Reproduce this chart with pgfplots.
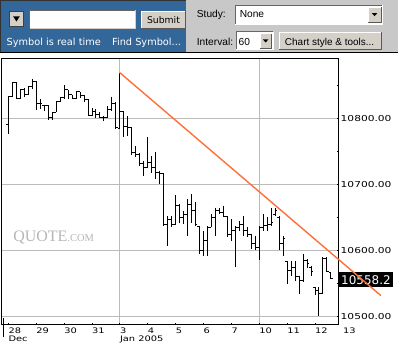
\documentclass[border=0pt]{standalone}
\usepackage{pgfplots}
\pgfplotsset{compat=1.18}
\usepackage{pgfplotstable}
\usepackage{fontspec}
\setmainfont{DejaVu Sans}
\newfontfamily\arialf{Liberation Sans}
\newfontfamily\pixfont[FakeStretch=1.3]{DejaVu Sans}
\newfontfamily\seriff{Liberation Serif}
\definecolor{tbblue}{RGB}{51,102,153}
\definecolor{tbgray}{RGB}{200,200,200}
\definecolor{btngray}{RGB}{212,208,200}
\definecolor{gridgray}{RGB}{187,187,187}
\definecolor{trend}{RGB}{255,112,56}
\definecolor{wm}{RGB}{182,182,182}

% hourly OHLC bars, x = bar index (7 bars per trading day)
\pgfplotstableread{
x o h l c
0 10790 10833 10776 10833
1 10833 10855 10833 10855
2 10855 10855 10830 10830
3 10830 10845 10829 10844
4 10844 10846 10833 10836
5 10836 10849 10835 10848
6 10848 10859 10844 10856
7 10856 10856 10813 10823
8 10823 10829 10814 10823
9 10819 10820 10811 10819
10 10819 10820 10798 10801
11 10801 10809 10798 10809
12 10809 10826 10809 10826
13 10826 10833 10825 10831
14 10831 10850 10830 10843
15 10843 10843 10829 10836
16 10836 10836 10829 10830
17 10830 10841 10829 10840
18 10840 10840 10831 10834
19 10834 10835 10825 10829
20 10829 10829 10804 10805
21 10805 10816 10803 10811
22 10811 10814 10801 10806
23 10806 10809 10800 10801
24 10801 10804 10796 10801
25 10801 10818 10800 10814
26 10814 10833 10811 10823
27 10823 10824 10784 10786
28 10785 10869 10784 10810
29 10810 10810 10771 10788
30 10788 10803 10773 10786
31 10786 10786 10744 10749
32 10749 10758 10741 10745
33 10745 10747 10728 10732
34 10732 10736 10713 10726
35 10726 10771 10725 10733
36 10733 10743 10718 10725
37 10725 10749 10708 10718
38 10718 10720 10700 10716
39 10716 10716 10637 10640
40 10640 10652 10607 10647
41 10647 10652 10635 10640
42 10640 10684 10640 10668
43 10668 10670 10642 10650
44 10650 10660 10640 10655
45 10655 10678 10622 10670
46 10670 10685 10642 10660
47 10660 10673 10637 10640
48 10636 10637 10595 10600
49 10600 10630 10592 10615
50 10615 10637 10592 10635
51 10635 10655 10635 10650
52 10650 10665 10622 10660
53 10660 10665 10655 10657
54 10657 10668 10650 10652
55 10652 10652 10620 10625
56 10625 10648 10615 10630
57 10630 10637 10575 10635
58 10635 10645 10630 10640
59 10640 10652 10622 10630
60 10630 10635 10620 10625
61 10625 10625 10602 10610
62 10610 10622 10600 10605
63 10605 10637 10585 10635
64 10635 10655 10630 10638
65 10638 10650 10630 10640
66 10640 10665 10637 10642
67 10655 10664 10652 10660
68 10650 10652 10600 10610
69 10610 10622 10592 10618
70 10584 10584 10549 10570
71 10570 10584 10562 10575
72 10575 10584 10554 10560
73 10560 10562 10534 10555
74 10555 10595 10552 10585
75 10585 10587 10574 10580
76 10575 10577 10562 10568
77 10544 10544 10532 10540
78 10540 10544 10501 10535
79 10535 10590 10534 10588
80 10588 10590 10567 10568
81 10566 10567 10557 10558.2
}\ohlc

\begin{document}
\begin{tikzpicture}[x=1bp,y=1bp]
\fill[white] (0,0) rectangle (398,338);
% ---------------- toolbar (pixel coordinates, y downwards) ----------------
\begin{scope}[shift={(0,338)}, yscale=-1]
  \fill[tbblue] (0,0) rectangle (186,52.7);
  \fill[tbgray] (186,0) rectangle (398,52.7);
  \draw[black!80, line width=0.8] (0.4,52.7) -- (0.4,0.4) -- (186,0.4);
  \draw[black, line width=1] (0,52.7) -- (398,52.7);
  % arrow button
  \fill[btngray] (9.3,11.7) rectangle (22.7,26.7);
  \draw[black!75, line width=0.7] (9.3,11.7) rectangle (22.7,26.7);
  \fill[black] (12.6,16.3) -- (19.4,16.3) -- (16,21.6) -- cycle;
  % text field
  \fill[white] (29.3,10) rectangle (135,28.3);
  \draw[black!60, line width=0.8] (29.3,28.3) -- (29.3,10) -- (135,10);
  \draw[btngray, line width=0.8] (135,10) -- (135,28.3) -- (29.3,28.3);
  % submit button
  \fill[btngray] (141.7,11.7) rectangle (185,28.3);
  \draw[white, line width=0.8] (141.7,28.3) -- (141.7,11.7) -- (185,11.7);
  \draw[black!65, line width=0.8] (185,11.7) -- (185,28.3) -- (141.7,28.3);
  \node[anchor=base, inner sep=0, font=\fontsize{9.3bp}{10bp}\selectfont] at (163.4,23.4) {Submit};
  \node[anchor=base west, inner sep=0, text=white, font=\fontsize{9.8bp}{10bp}\selectfont] at (6,45.3) {Symbol is real time};
  \node[anchor=base west, inner sep=0, text=white, font=\fontsize{9.8bp}{10bp}\selectfont] at (111.7,45.3) {Find Symbol...};
  % study
  \node[anchor=base west, inner sep=0, font=\arialf\fontsize{10.2bp}{11bp}\selectfont] at (196.7,17.5) {Study:};
  \fill[white] (235,5) rectangle (383.3,24);
  \draw[black!60, line width=0.8] (235,24) -- (235,5) -- (383.3,5);
  \draw[white, line width=0.8] (383.3,5) -- (383.3,24) -- (235,24);
  \node[anchor=base west, inner sep=0, font=\arialf\fontsize{10.2bp}{11bp}\selectfont] at (239.7,18) {None};
  \fill[btngray] (368.3,7) rectangle (381.7,22);
  \draw[white, line width=0.7] (368.3,22) -- (368.3,7) -- (381.7,7);
  \draw[black!65, line width=0.7] (381.7,7) -- (381.7,22) -- (368.3,22);
  \fill[black] (372.3,13.2) -- (377.7,13.2) -- (375,16.2) -- cycle;
  % interval
  \node[anchor=base west, inner sep=0, font=\arialf\fontsize{10.2bp}{11bp}\selectfont] at (196.7,45.2) {Interval:};
  \fill[white] (236,31.7) rectangle (273.3,50);
  \draw[black!60, line width=0.8] (236,50) -- (236,31.7) -- (273.3,31.7);
  \draw[white, line width=0.8] (273.3,31.7) -- (273.3,50) -- (236,50);
  \node[anchor=base west, inner sep=0, font=\arialf\fontsize{10.2bp}{11bp}\selectfont] at (238.5,45.2) {60};
  \fill[btngray] (260,33.7) rectangle (271.7,48);
  \draw[white, line width=0.7] (260,48) -- (260,33.7) -- (271.7,33.7);
  \draw[black!65, line width=0.7] (271.7,33.7) -- (271.7,48) -- (260,48);
  \fill[black] (263.1,39.6) -- (268.5,39.6) -- (265.8,42.6) -- cycle;
  % chart style button
  \fill[btngray] (279.3,32.3) rectangle (381.7,49.3);
  \draw[white, line width=0.8] (279.3,49.3) -- (279.3,32.3) -- (381.7,32.3);
  \draw[black!65, line width=0.8] (381.7,32.3) -- (381.7,49.3) -- (279.3,49.3);
  \node[anchor=base west, inner sep=0, font=\arialf\fontsize{10bp}{11bp}\selectfont] at (285,45.2) {Chart style \& tools...};
\end{scope}
% ---------------- watermark ----------------
\node[anchor=base west, inner sep=0, text=wm] at (12.7,96.3)
  {\seriff\fontsize{16bp}{16bp}\selectfont QUOTE\fontsize{10.5bp}{10.5bp}\selectfont.COM};
\draw[black, line width=1bp] (2.7,0) -- (2.7,19);
% ---------------- chart ----------------
\begin{axis}[
  at={(2.7,18.7)}, anchor=south west,
  scale only axis, width=338bp, height=266.6bp,
  xmin=-1.70, xmax=82.97, ymin=10487.5, ymax=10890,
  clip=false,
  scaled y ticks=false, scaled x ticks=false,
  axis line style={black, line width=1bp},
  tick align=inside,
  major tick length=2.2bp, minor tick length=2.2bp,
  xtick pos=left, ytick pos=right,
  yticklabel pos=right,
  xtick={0,7,...,77},
  xticklabels={28,29,30,31,3,4,5,6,7,10,11,12},
  xticklabel style={font=\pixfont\fontsize{7.6bp}{8bp}\selectfont, anchor=north west, inner sep=0pt, yshift=-3bp},
  xtick style={black, line width=0.7bp},
  extra x ticks={28,63}, extra x tick labels={},
  extra x tick style={grid=major, major grid style={gridgray, line width=1bp}},
  ytick={10500,10600,10700,10800},
  yticklabels={10500.00,10600.00,10700.00,10800.00},
  minor ytick={10550,10650,10750,10850},
  yticklabel style={font=\pixfont\fontsize{8.2bp}{9bp}\selectfont, anchor=west, inner sep=0pt, xshift=1.8bp},
  ytick style={black, line width=0.7bp},
  ymajorgrids, major grid style={gridgray, line width=1bp},
]
% high-low
\addplot[draw=none, mark=none, forget plot,
  error bars/.cd, y dir=minus, y explicit, error mark=none,
  error bar style={draw=black, line width=0.9bp}]
  table[x=x, y=h, y error minus expr=\thisrow{h}-\thisrow{l}] {\ohlc};
% open ticks
\addplot[only marks, mark=-, mark size=1bp, forget plot,
  mark options={xshift=-1bp, line width=0.9bp, draw=black}] table[x=x, y=o] {\ohlc};
% close ticks
\addplot[only marks, mark=-, mark size=1bp, forget plot,
  mark options={xshift=1bp, line width=0.9bp, draw=black}] table[x=x, y=c] {\ohlc};
% last price box
\fill[black] (axis cs:82.97,10544.2) rectangle (axis cs:96.6,10566.9);
\node[text=white, inner sep=0, font=\fontsize{12bp}{12bp}\selectfont] at (axis cs:89.8,10555.6) {10558.2};
% trend line
\addplot[trend, line width=1.4bp] coordinates {(28,10869) (93.56,10531.7)};
% day label 13 and month labels
\node[anchor=north west, inner sep=0, font=\pixfont\fontsize{7.6bp}{8bp}\selectfont, yshift=-3bp] at (axis cs:84,10487.5) {13};
\node[anchor=north west, inner sep=0, font=\pixfont\fontsize{7.6bp}{8bp}\selectfont, yshift=-11.4bp] at (axis cs:0,10487.5) {Dec};
\node[anchor=north west, inner sep=0, font=\pixfont\fontsize{7.6bp}{8bp}\selectfont, yshift=-11.4bp] at (axis cs:28,10487.5) {Jan 2005};
\end{axis}
\end{tikzpicture}
\end{document}
